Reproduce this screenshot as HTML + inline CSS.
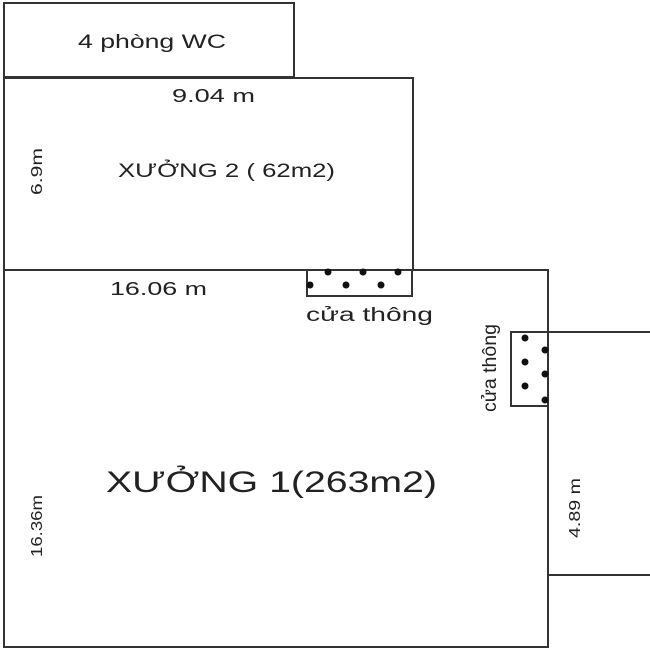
<!DOCTYPE html>
<html><head><meta charset="utf-8"><style>
html,body{margin:0;padding:0;background:#fff;}
svg{display:block}
text{font-family:"Liberation Sans",sans-serif;fill:#222;}
</style></head><body>
<svg width="650" height="650" viewBox="0 0 650 650" xmlns="http://www.w3.org/2000/svg">
<g fill="none" stroke="#333" stroke-width="2">
<rect x="4" y="3" width="290" height="74"/>
<rect x="4" y="78" width="409" height="192"/>
<path d="M4 270 H548 V647 H4 Z"/>
<path d="M548 332 H652 M548 575 H652"/>
<rect x="307" y="270" width="105" height="26"/>
<rect x="511" y="332" width="37" height="74"/>
</g>
<g fill="#111">
<circle cx="328" cy="272" r="3.5"/><circle cx="363" cy="272" r="3.5"/><circle cx="398" cy="272" r="3.5"/>
<circle cx="310" cy="285" r="3.5"/><circle cx="346" cy="285" r="3.5"/><circle cx="381" cy="285" r="3.5"/>
<circle cx="525" cy="338" r="3.5"/><circle cx="545" cy="350" r="3.5"/><circle cx="525" cy="362" r="3.5"/>
<circle cx="545" cy="374" r="3.5"/><circle cx="525" cy="386" r="3.5"/><circle cx="545" cy="400" r="3.5"/>
</g>
<text x="78" y="48" font-size="19" textLength="148" lengthAdjust="spacingAndGlyphs">4 phòng WC</text>
<text x="172" y="102" font-size="18" textLength="83" lengthAdjust="spacingAndGlyphs">9.04 m</text>
<text x="118" y="177" font-size="19" textLength="217" lengthAdjust="spacingAndGlyphs">XƯỞNG 2 ( 62m2)</text>
<text transform="translate(42,195) rotate(-90)" font-size="16" textLength="47" lengthAdjust="spacingAndGlyphs">6.9m</text>
<text x="110" y="295" font-size="18" textLength="97" lengthAdjust="spacingAndGlyphs">16.06 m</text>
<text x="306" y="321" font-size="19" textLength="127" lengthAdjust="spacingAndGlyphs">cửa thông</text>
<text transform="translate(496,412) rotate(-90)" font-size="19" textLength="88" lengthAdjust="spacingAndGlyphs">cửa thông</text>
<text x="106" y="492" font-size="30" textLength="331" lengthAdjust="spacingAndGlyphs">XƯỞNG 1(263m2)</text>
<text transform="translate(42,557) rotate(-90)" font-size="16" textLength="62" lengthAdjust="spacingAndGlyphs">16.36m</text>
<text transform="translate(580,538) rotate(-90)" font-size="16" textLength="60" lengthAdjust="spacingAndGlyphs">4.89 m</text>
</svg>
</body></html>
